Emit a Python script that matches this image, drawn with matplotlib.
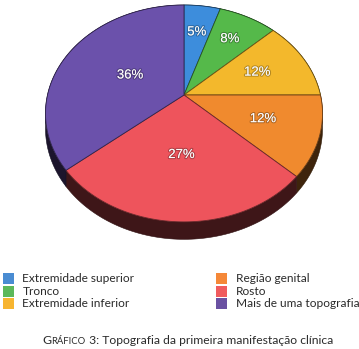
import numpy as np
import matplotlib
matplotlib.use('Agg')
import matplotlib.pyplot as plt
from matplotlib.patches import Polygon, Rectangle
from matplotlib.offsetbox import TextArea, HPacker, AnnotationBbox
import matplotlib.patheffects as pe

# ---- data ----
categories = ['Extremidade superior', 'Tronco', 'Extremidade inferior',
              'Região genital', 'Rosto', 'Mais de uma topografia']
values = [5, 8, 12, 12, 27, 36]
colors = ['#3d8ddc', '#55b94a', '#f3b82c', '#f08a2e', '#ee545c', '#6b51ab']
legend_colors = ['#4a8cd2', '#5cb85a', '#f7b531', '#f58838', '#f05b5e', '#6a51a2']
caption_cap = 'G'
caption_small = 'RÁFICO'
caption_rest = ' 3: Topografia da primeira manifestação clínica'

W, H = 359, 349
fig = plt.figure(figsize=(W / 100, H / 100), dpi=100)
ax = fig.add_axes([0, 0, 1, 1])

wedges, texts, autotexts = ax.pie(values, startangle=90, counterclock=False,
                                  autopct='%1.0f%%')
angles = [(w.theta1, w.theta2) for w in wedges]
for w in wedges:
    w.remove()
for t in texts:
    t.remove()

ax.set_aspect('auto')
ax.set_xlim(0, W)
ax.set_ylim(H, 0)
ax.axis('off')

# perspective projection of the unit disc
CX, CY = 184, 95
RX, RY = 136.5, 105.3
K = 0.17
DEPTH = 14.5


def proj(x, y):
    d = 1 + K * y
    return CX + RX * x / d, CY - RY * y / d


def darken(c, f):
    r, g, b = matplotlib.colors.to_rgb(c)
    return (r * f, g * f, b * f)


# sides
for (t1, t2), col in zip(angles, colors):
    th = np.radians(np.linspace(t1, t2, 80))
    x, y = np.cos(th), np.sin(th)
    X, Y = proj(x, y)
    Yb = Y + DEPTH / (1 + K * y)
    pts = np.vstack([np.column_stack([X, Y]), np.column_stack([X[::-1], Yb[::-1]])])
    ax.add_patch(Polygon(pts, closed=True, facecolor=darken(col, 0.26),
                         edgecolor=darken(col, 0.2), lw=0.4, zorder=1))

# top faces
for (t1, t2), col in zip(angles, colors):
    th = np.radians(np.linspace(t1, t2, 80))
    x, y = np.cos(th), np.sin(th)
    X, Y = proj(x, y)
    pts = np.vstack([[proj(0, 0)], np.column_stack([X, Y])])
    ax.add_patch(Polygon(pts, closed=True, facecolor=col,
                         edgecolor=darken(col, 0.45), lw=0.6, zorder=2))

# percentage labels
label_dist = [0.67, 0.69, 0.6, 0.6, 0.52, 0.45]
for (t1, t2), at, r in zip(angles, autotexts, label_dist):
    m = np.radians((t1 + t2) / 2)
    at.set_position(proj(r * np.cos(m), r * np.sin(m)))
    at.set_color('white')
    at.set_fontsize(9.5)
    at.set_family('Liberation Sans')
    at.set_ha('center')
    at.set_va('center')
    at.set_zorder(5)
    at.set_path_effects([pe.withStroke(linewidth=1.6, foreground=(0, 0, 0, 0.25))])

# legend
for i, (lab, col) in enumerate(zip(categories, legend_colors)):
    c, r = divmod(i, 3)
    x0 = [3, 216][c]
    y0 = 278.5 + r * 12.7
    ax.add_patch(Rectangle((x0, y0 - 5.5), 11, 11, facecolor=col, edgecolor='none', zorder=3))
    ax.text(x0 + 19.5, y0, lab, va='center', ha='left', fontsize=8.6,
            family='Lato', color='#2a2a2a', zorder=3)

# caption
tp = dict(family='Lato', color='#2a2a2a')
parts = [TextArea(caption_cap, textprops=dict(fontsize=8.8, **tp)),
         TextArea(caption_small, textprops=dict(fontsize=6.8, **tp)),
         TextArea(caption_rest, textprops=dict(fontsize=8.7, **tp))]
box = HPacker(children=parts, align='baseline', pad=0, sep=0)
ab = AnnotationBbox(box, (187.5, 340), xycoords='data', frameon=False,
                    box_alignment=(0.5, 0.5), pad=0)
ax.add_artist(ab)

fig.savefig('out.png', dpi=100)
